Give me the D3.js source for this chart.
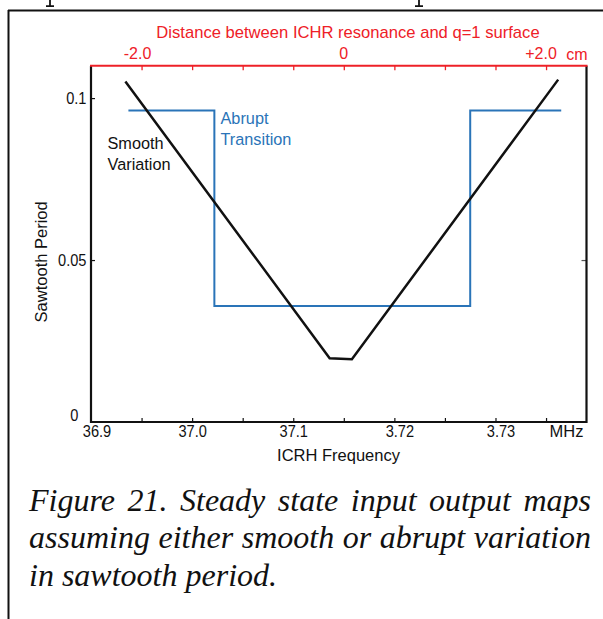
<!DOCTYPE html>
<html>
<head>
<meta charset="utf-8">
<script src="https://cdn.jsdelivr.net/npm/d3@7/dist/d3.min.js"></script>
<style>
  html, body { margin: 0; padding: 0; background: #fff; }
  svg { display: block; }
  text { font-family: "Liberation Sans", Arial, sans-serif; }
</style>
</head>
<body>
<svg id="chart" width="603" height="619"></svg>
<script>
// ICRH frequency (MHz) and sawtooth period (s) for the two steady-state maps
const smoothFreq = [36.934, 37.136, 37.158, 37.362];
const smoothPeriod = [0.1051, 0.0197, 0.0194, 0.1057];

const abruptFreq = [36.937, 37.022, 37.022, 37.275, 37.275, 37.365];
const abruptPeriod = [0.0962, 0.0962, 0.0358, 0.0358, 0.0962, 0.0962];

// Axis ticks and their printed labels
const freqDomain = [36.9, 37.39];
const freqMinorTicks = [36.95, 37.0, 37.05, 37.1, 37.15, 37.2, 37.25, 37.3, 37.35];
const freqLabelValues = [36.9, 37.0, 37.1, 37.2, 37.3];
const freqLabels = ["36.9", "37.0", "37.1", "3.72", "3.73"];

const distTicks = [-2.0, -1.5, -1.0, -0.5, 0, 0.5, 1.0, 1.5, 2.0];
const distLabelValues = [-2.0, 0, 2.0];
const distLabels = ["-2.0", "0", "+2.0"];

const periodDomain = [0, 0.11];
const periodTicks = [0, 0.05, 0.1];
const periodLabels = ["0", "0.05", "0.1"];

const captionLines = [
  "Figure 21. Steady state input output maps",
  "assuming either smooth or abrupt variation",
  "in sawtooth period."
];

const RED = "#ee2027";
const BLUE = "#2a74b8";
const INK = "#111";

const svg = d3.select("#chart");

const pL = 91, pR = 586.5, pT = 65.7, pB = 422;

const x = d3.scaleLinear().domain(freqDomain).range([pL, pR]);
// distance from q=1 surface: 0 cm sits at 37.15 MHz, 0.1 MHz per cm
const xd = d3.scaleLinear()
  .domain(freqDomain.map(f => (f - 37.15) * 10))
  .range([pL, pR]);
const y = d3.scaleLinear().domain(periodDomain).range([pB, pT]);

// page frame (the figure sits inside a bordered box)
svg.append("line").attr("x1", 8).attr("x2", 603).attr("y1", 10.5).attr("y2", 10.5)
  .attr("stroke", INK).attr("stroke-width", 2);
svg.append("line").attr("x1", 8.5).attr("x2", 8.5).attr("y1", 10).attr("y2", 619)
  .attr("stroke", INK).attr("stroke-width", 2);

// descender stems of the body text line above the frame
svg.selectAll("path.stem").data([50, 419]).join("path")
  .attr("class", "stem")
  .attr("d", d => `M${d},0V6M${d - 4},6.2H${d + 4}`)
  .attr("stroke", INK).attr("stroke-width", 1.8).attr("fill", "none");

// condensed numeric tick labels
function numLabel(sel, size) {
  return sel.style("font-size", size + "px")
    .attr("transform", function() {
      const tx = +d3.select(this).attr("data-x"), ty = +d3.select(this).attr("data-y");
      return `translate(${tx},${ty}) scale(0.86,1)`;
    });
}

// bottom frequency axis
const gBottom = svg.append("g").attr("transform", `translate(0,${pB})`)
  .call(d3.axisBottom(x).tickValues(freqMinorTicks).tickSize(-4).tickFormat(""));
gBottom.select(".domain").remove();
gBottom.selectAll(".tick line").attr("stroke", INK).attr("stroke-width", 1.2);

svg.selectAll("text.flab").data(freqLabelValues).join("text")
  .attr("class", "flab")
  .attr("data-x", d => x(d) + (d === 36.9 ? 6 : (d >= 37.2 ? 5.5 : 0.5)))
  .attr("data-y", 437)
  .attr("text-anchor", "middle")
  .attr("fill", INK)
  .text((d, i) => freqLabels[i])
  .call(numLabel, 17);

svg.append("text").attr("x", 566.5).attr("y", 437).attr("text-anchor", "middle")
  .style("font-size", "16.5px").attr("fill", INK).text("MHz");

svg.append("text").attr("x", 338.5).attr("y", 461).attr("text-anchor", "middle")
  .style("font-size", "16.5px").attr("fill", INK).text("ICRH Frequency");

// top distance axis (red)
const gTop = svg.append("g").attr("transform", `translate(0,${pT})`)
  .call(d3.axisTop(xd).tickValues(distTicks).tickSize(-4.5).tickFormat(""));
gTop.select(".domain").remove();
gTop.selectAll(".tick line").attr("stroke", RED).attr("stroke-width", 1.3);

svg.selectAll("text.dlab").data(distLabelValues).join("text")
  .attr("class", "dlab")
  .attr("x", d => xd(d) - (d < 0 ? 4 : (d > 0 ? 5 : 0)))
  .attr("y", 58.5)
  .attr("text-anchor", "middle")
  .style("font-size", "16px")
  .attr("fill", RED)
  .text((d, i) => distLabels[i]);

svg.append("text").attr("x", 577).attr("y", 60).attr("text-anchor", "middle")
  .style("font-size", "16px").attr("fill", RED).text("cm");

svg.append("text").attr("x", 348).attr("y", 38).attr("text-anchor", "middle")
  .style("font-size", "16.6px").attr("fill", RED)
  .text("Distance between ICHR resonance and q=1 surface");

// left period axis
const gLeft = svg.append("g").attr("transform", `translate(${pL},0)`)
  .call(d3.axisLeft(y).tickValues(periodTicks.filter(v => v > 0)).tickSize(-4).tickFormat(""));
gLeft.select(".domain").remove();
gLeft.selectAll(".tick line").attr("stroke", INK).attr("stroke-width", 1.2);

svg.selectAll("text.plab").data(periodTicks).join("text")
  .attr("class", "plab")
  .attr("data-x", d => d === 0 ? 78.5 : 86.5)
  .attr("data-y", d => y(d) + (d === 0 ? -1.5 : 6))
  .attr("text-anchor", "end")
  .attr("fill", INK)
  .text((d, i) => periodLabels[i])
  .call(numLabel, 17);

svg.append("text")
  .attr("transform", `translate(46.5,${(pT + pB) / 2 + 18}) rotate(-90)`)
  .attr("text-anchor", "middle")
  .style("font-size", "16.5px").attr("fill", INK)
  .text("Sawtooth Period");

// right axis tick
const gRight = svg.append("g").attr("transform", `translate(${pR},0)`)
  .call(d3.axisRight(y).tickValues([0.05]).tickSize(-5).tickFormat(""));
gRight.select(".domain").remove();
gRight.selectAll(".tick line").attr("stroke", "#555").attr("stroke-width", 1.2);

// plot box: black left/bottom/right, red top
svg.append("path")
  .attr("d", `M${pL},${pT}V${pB}H${pR}V${pT}`)
  .attr("fill", "none").attr("stroke", INK).attr("stroke-width", 2.2);
svg.append("line").attr("x1", pL - 1).attr("x2", pR + 1).attr("y1", pT).attr("y2", pT)
  .attr("stroke", RED).attr("stroke-width", 2);

// series
const line = d3.line().x(d => x(d[0])).y(d => y(d[1]));

svg.append("path")
  .datum(abruptFreq.map((f, i) => [f, abruptPeriod[i]]))
  .attr("d", line)
  .attr("fill", "none").attr("stroke", BLUE).attr("stroke-width", 2);

svg.append("path")
  .datum(smoothFreq.map((f, i) => [f, smoothPeriod[i]]))
  .attr("d", line)
  .attr("fill", "none").attr("stroke", INK).attr("stroke-width", 2.5)
  .attr("stroke-linejoin", "miter");

// series annotations
const smoothLab = svg.append("text").attr("x", 107.5).attr("y", 148.5)
  .style("font-size", "16.3px").attr("fill", INK);
smoothLab.append("tspan").attr("x", 107.5).text("Smooth");
smoothLab.append("tspan").attr("x", 107.5).attr("dy", 21.5).text("Variation");

const abruptLab = svg.append("text").attr("x", 220.5).attr("y", 123.5)
  .style("font-size", "16.3px").attr("fill", BLUE);
abruptLab.append("tspan").attr("x", 220.5).text("Abrupt");
abruptLab.append("tspan").attr("x", 220.5).attr("dy", 21).text("Transition");

// caption, first two lines justified between the margins
const capLeft = 29, capRight = 591;
const capBase = [511, 548, 586];
captionLines.forEach((ln, li) => {
  const words = ln.split(" ");
  const g = svg.append("g");
  const nodes = words.map(w => g.append("text")
    .attr("y", capBase[li])
    .style("font-family", "'Liberation Serif', 'Times New Roman', serif")
    .style("font-style", "italic")
    .style("font-size", "32px")
    .attr("fill", INK)
    .text(w));
  const widths = nodes.map(n => n.node().getComputedTextLength());
  const total = d3.sum(widths);
  const justify = li < captionLines.length - 1;
  const gap = justify ? (capRight - capLeft - total) / (words.length - 1) : 8;
  let cx = capLeft;
  nodes.forEach((n, i) => { n.attr("x", cx); cx += widths[i] + gap; });
});
</script>
</body>
</html>
